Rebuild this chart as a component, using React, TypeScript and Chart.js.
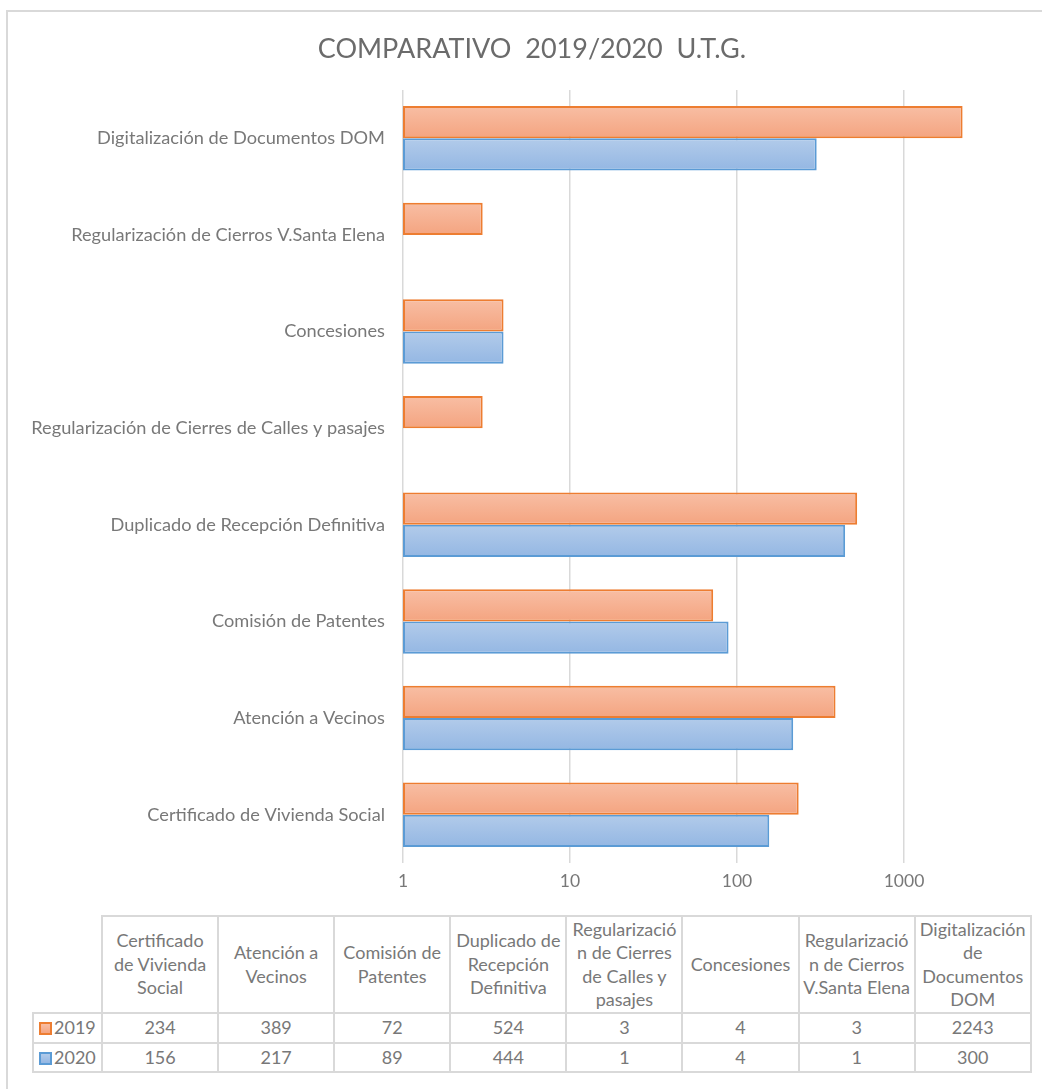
import React, { useEffect, useRef } from 'react';
import { Chart, registerables } from 'chart.js';

Chart.register(...registerables);

// ---------- data ----------
const title = 'COMPARATIVO  2019/2020  U.T.G.';
const categories = [
  'Certificado de Vivienda Social',
  'Atención a Vecinos',
  'Comisión de Patentes',
  'Duplicado de Recepción Definitiva',
  'Regularización de Cierres de Calles y pasajes',
  'Concesiones',
  'Regularización de Cierros V.Santa Elena',
  'Digitalización de Documentos DOM',
];
const tableHeaders = [
  'Certificado\nde Vivienda\nSocial',
  'Atención a\nVecinos',
  'Comisión de\nPatentes',
  'Duplicado de\nRecepción\nDefinitiva',
  'Regularizació\nn de Cierres\nde Calles y\npasajes',
  'Concesiones',
  'Regularizació\nn de Cierros\nV.Santa Elena',
  'Digitalización\nde\nDocumentos\nDOM',
];
const seriesNames = ['2019', '2020'];
const values2019 = [234, 389, 72, 524, 3, 4, 3, 2243];
const values2020 = [156, 217, 89, 444, 1, 4, 1, 300];
const xTicks = [1, 10, 100, 1000];

// ---------- styles ----------
const FONT = 'Lato, "Liberation Sans", sans-serif';
const TEXT = '#787878';
const GRID = '#d9d9d9';
const CAT_PCT = 0.667;
const ORANGE = { top: '#f8bea4', bottom: '#f4a480', border: '#ed7d31' };
const BLUE = { top: '#b2cbea', bottom: '#94b7e3', border: '#5b9bd5' };

function gradientFor(colors: typeof ORANGE, dsIndex: number) {
  return (c: any) => {
    const chart = c.chart;
    const y = chart.scales && chart.scales.y;
    if (!y || c.type !== 'data' || !chart.chartArea) return colors.bottom;
    const center = y.getPixelForValue(c.dataIndex);
    const catH = Math.abs(y.getPixelForValue(1) - y.getPixelForValue(0));
    const barH = (catH * CAT_PCT) / 2;
    const top = dsIndex === 0 ? center - barH : center;
    const g = chart.ctx.createLinearGradient(0, top, 0, top + barH);
    g.addColorStop(0, colors.top);
    g.addColorStop(1, colors.bottom);
    return g;
  };
}

export default function App() {
  const canvasRef = useRef<HTMLCanvasElement>(null);

  useEffect(() => {
    const canvas = canvasRef.current;
    if (!canvas) return;
    const chart = new Chart(canvas, {
      type: 'bar',
      data: {
        labels: categories,
        datasets: [
          {
            label: seriesNames[0],
            data: values2019,
            backgroundColor: gradientFor(ORANGE, 0),
            borderColor: ORANGE.border,
            borderWidth: 2,
            borderSkipped: false,
            categoryPercentage: CAT_PCT,
            barPercentage: 1,
          },
          {
            label: seriesNames[1],
            data: values2020,
            backgroundColor: gradientFor(BLUE, 1),
            borderColor: BLUE.border,
            borderWidth: 2,
            borderSkipped: false,
            categoryPercentage: CAT_PCT,
            barPercentage: 1,
          },
        ],
      },
      options: {
        indexAxis: 'y',
        responsive: false,
        animation: false,
        devicePixelRatio: 1,
        layout: { padding: { left: 0, right: 12, top: 90, bottom: 0 } },
        plugins: {
          legend: { display: false },
          tooltip: { enabled: false },
          title: { display: false },
        },
        scales: {
          x: {
            type: 'logarithmic',
            position: 'bottom',
            min: 1,
            max: 5680,
            bounds: 'data',
            afterBuildTicks: (ax: any) => {
              ax.ticks = xTicks.map((v) => ({ value: v }));
            },
            afterFit: (ax: any) => {
              ax.height = 37;
            },
            ticks: {
              callback: (v: any) => String(v),
              color: TEXT,
              font: { family: FONT, size: 17.5 },
              padding: 8,
              autoSkip: false,
              maxRotation: 0,
            },
            grid: { color: GRID, lineWidth: 1.5, drawTicks: false },
            border: { display: false },
          },
          y: {
            type: 'category',
            reverse: true,
            afterFit: (ax: any) => {
              ax.width = 403;
            },
            ticks: {
              color: TEXT,
              font: { family: FONT, size: 18.2 },
              padding: 18,
              autoSkip: false,
            },
            grid: { display: false, drawTicks: false },
            border: { display: false },
          },
        },
      },
    } as any);
    return () => chart.destroy();
  }, []);

  const cellBorder = `2px solid ${GRID}`;
  const cellBase: React.CSSProperties = {
    border: cellBorder,
    textAlign: 'center',
    verticalAlign: 'middle',
    padding: 0,
    color: TEXT,
  };
  const swatch = (c: typeof ORANGE): React.CSSProperties => ({
    display: 'inline-block',
    width: 9,
    height: 9,
    border: `2px solid ${c.border}`,
    background: `linear-gradient(${c.top}, ${c.bottom})`,
    marginRight: 2,
    verticalAlign: -1,
  });
  const rows = [values2019, values2020];
  const swatches = [ORANGE, BLUE];

  return (
    <div
      style={{
        position: 'absolute',
        left: 0,
        top: 0,
        width: 1042,
        height: 1089,
        overflow: 'hidden',
        background: '#ffffff',
        fontFamily: FONT,
      }}
    >
      <div
        style={{
          position: 'absolute',
          left: 6,
          top: 10,
          width: 1100,
          height: 1100,
          border: `2px solid ${GRID}`,
          boxSizing: 'border-box',
        }}
      />
      <div style={{ position: 'absolute', left: 0, top: 0, width: 1042, height: 900 }}>
        <canvas ref={canvasRef} width={1042} height={900} style={{ display: 'block' }} />
      </div>
      <div
        style={{
          position: 'absolute',
          left: 0,
          top: 31,
          width: 1064,
          height: 34,
          lineHeight: '34px',
          textAlign: 'center',
          whiteSpace: 'pre',
          fontFamily: FONT,
          fontSize: 27,
          color: '#6b6b6b',
        }}
      >
        {title}
      </div>
      <table
        style={{
          position: 'absolute',
          left: 32,
          top: 915,
          borderCollapse: 'collapse',
          tableLayout: 'fixed',
          width: 998,
          fontFamily: FONT,
          fontSize: 18,
          lineHeight: '23.5px',
        }}
      >
        <colgroup>
          <col style={{ width: 69 }} />
          {categories.map((c) => (
            <col key={c} style={{ width: 116.1 }} />
          ))}
        </colgroup>
        <tbody>
          <tr style={{ height: 97 }}>
            <td style={{ border: 'none', padding: 0 }} />
            {tableHeaders.map((h, i) => (
              <td key={i} style={{ ...cellBase, whiteSpace: 'pre-line' }}>
                {h}
              </td>
            ))}
          </tr>
          {rows.map((vals, r) => (
            <tr key={r} style={{ height: 29.5 }}>
              <td style={{ ...cellBase, textAlign: 'left', paddingLeft: 5, whiteSpace: 'nowrap' }}>
                <span style={swatch(swatches[r])} />
                {seriesNames[r]}
              </td>
              {vals.map((v, i) => (
                <td key={i} style={cellBase}>
                  {v}
                </td>
              ))}
            </tr>
          ))}
        </tbody>
      </table>
    </div>
  );
}
